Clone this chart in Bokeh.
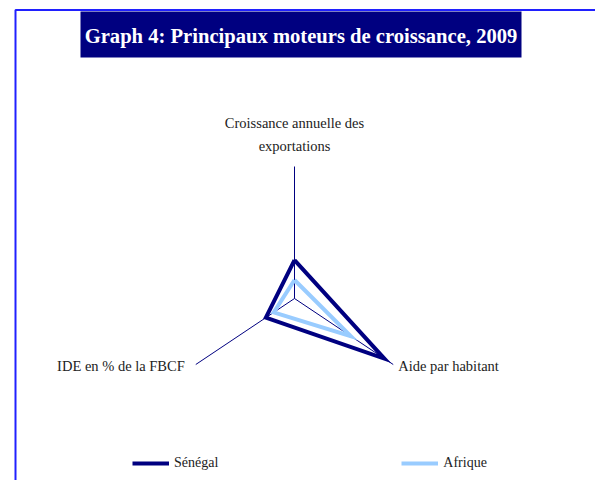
import numpy as np
from bokeh.plotting import figure
from bokeh.models import Range1d, BoxAnnotation, Label, Legend, LegendItem
from bokeh.embed import file_html
from bokeh.resources import INLINE

# ---- data ----
axes_labels = ["Croissance annuelle des\nexportations", "IDE en % de la FBCF", "Aide par habitant"]
axis_max = 100
senegal = [29, 29, 91]
afrique = [14, 21, 57]
series_names = ["Sénégal", "Afrique"]
title_text = "Graph 4: Principaux moteurs de croissance, 2009"

NAVY = "#000080"
LIGHT = "#99CCFF"
FONT = "Liberation Serif"

# pixel-like coordinate system
W, H = 595, 480
p = figure(width=W, height=H, output_backend="svg", toolbar_location=None,
           x_range=Range1d(0, W), y_range=Range1d(H, 0),
           min_border=0, min_border_left=0, min_border_right=0,
           min_border_top=0, min_border_bottom=0)
p.axis.visible = False
p.grid.visible = False
p.outline_line_color = None
p.background_fill_color = "white"
p.border_fill_color = "white"

# radar geometry
cx, cy = 294.0, 298.0
sx, sy = 114.0, 132.0
angles = np.radians([90, 210, 330])

def to_xy(vals):
    r = np.asarray(vals, dtype=float) / axis_max
    return cx + sx * r * np.cos(angles), cy - sy * r * np.sin(angles)

# frame border (top & left visible)
p.add_layout(BoxAnnotation(left=15, right=900, top=9.5, bottom=900,
                           fill_alpha=0, line_color="#2020FF", line_alpha=1,
                           line_width=2))

# title box
p.add_layout(BoxAnnotation(left=80, right=521, top=11, bottom=57,
                           fill_color=NAVY, fill_alpha=1, line_color=None))
p.add_layout(Label(x=300.5, y=35, text=title_text, text_align="center",
                   text_baseline="middle", text_color="white",
                   text_font=FONT, text_font_style="bold", text_font_size="20.6px"))

# spokes
ex, ey = to_xy([axis_max] * 3)
p.segment(x0=[cx] * 3, y0=[cy] * 3, x1=ex, y1=ey, line_color=NAVY, line_width=1)

# series polygons
xs, ys = to_xy(senegal)
r_sen = p.line(x=list(xs) + [xs[0]], y=list(ys) + [ys[0]], line_color=NAVY, line_width=4,
               line_join="miter")
xa, ya = to_xy(afrique)
r_afr = p.line(x=list(xa) + [xa[0]], y=list(ya) + [ya[0]], line_color=LIGHT, line_width=4,
               line_join="miter")

# axis labels
p.add_layout(Label(x=ex[0], y=ey[0] - 12, text=axes_labels[0], text_align="center",
                   text_baseline="bottom", text_font=FONT, text_font_size="14.5px",
                   text_color="#222222", text_line_height=1.45))
p.add_layout(Label(x=ex[1] - 11, y=ey[1] + 1, text=axes_labels[1], text_align="right",
                   text_baseline="middle", text_font=FONT, text_font_size="14.5px",
                   text_color="#222222"))
p.add_layout(Label(x=ex[2] + 5, y=ey[2] + 1, text=axes_labels[2], text_align="left",
                   text_baseline="middle", text_font=FONT, text_font_size="14.5px",
                   text_color="#222222"))

legend = Legend(items=[LegendItem(label=series_names[0], renderers=[r_sen]),
                       LegendItem(label=series_names[1], renderers=[r_afr])],
                orientation="horizontal", location=(132, 9),
                glyph_width=37, glyph_height=16, label_height=16,
                label_standoff=5, spacing=183, padding=0, margin=0,
                border_line_color=None, background_fill_alpha=0,
                label_text_font=FONT, label_text_font_size="14px",
                label_text_color="#222222")
p.add_layout(legend)

open("out.html", "w").write(file_html(p, INLINE))
